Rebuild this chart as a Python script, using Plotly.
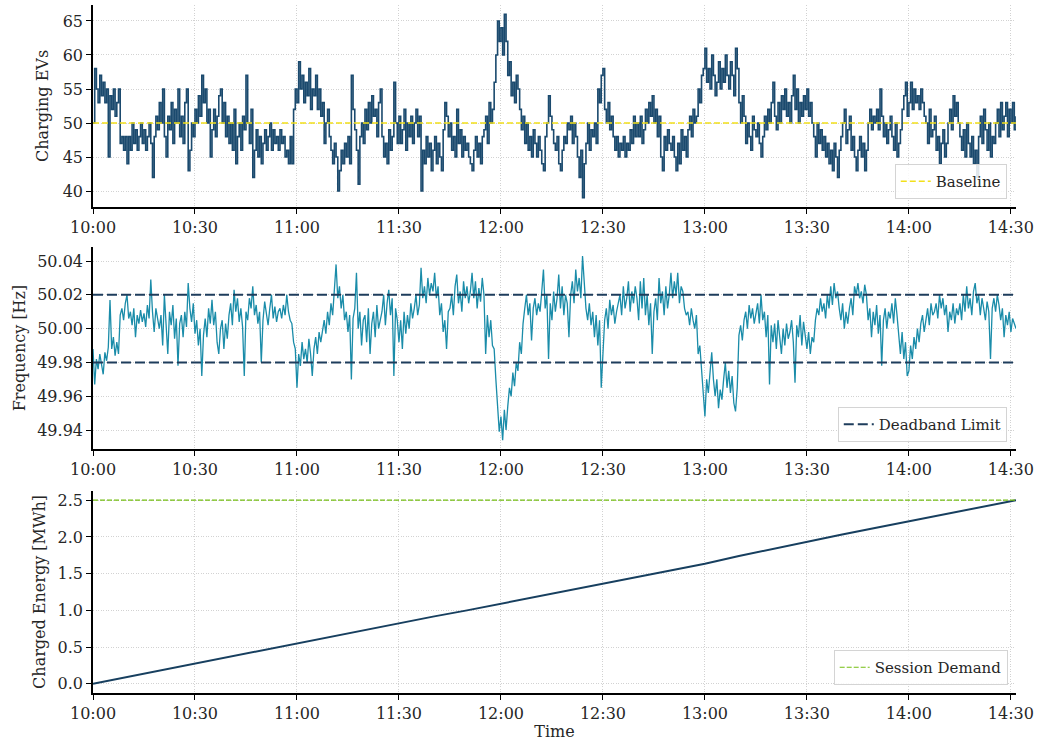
import numpy as np
import pandas as pd
import plotly.graph_objects as go
from plotly.subplots import make_subplots

# ---- data -------------------------------------------------------------
sample_start = "2024-05-14 10:00:00"
sample_step = "30s"

# number of charging EVs, one reading every 30 s
ev_count = [
    50, 58, 55, 53, 57, 54, 56, 53, 55, 45,
    54, 52, 55, 51, 53, 55, 47, 48, 46, 48,
    44, 48, 46, 50, 47, 49, 46, 48, 50, 47,
    49, 46, 48, 50, 47, 42, 48, 51, 49, 53,
    50, 55, 48, 45, 51, 49, 53, 47, 52, 50,
    55, 48, 51, 47, 53, 55, 43, 46, 50, 48,
    52, 50, 54, 51, 57, 53, 55, 50, 52, 45,
    49, 52, 48, 51, 54, 55, 50, 53, 48, 51,
    47, 50, 46, 52, 44, 48, 50, 46, 51, 49,
    57, 50, 47, 52, 42, 46, 49, 45, 48, 44,
    47, 49, 46, 48, 50, 46, 49, 47, 48, 46,
    49, 47, 48, 45, 46, 44, 48, 44, 52, 55,
    53, 59, 55, 57, 53, 56, 54, 58, 52, 55,
    54, 57, 52, 55, 51, 53, 47, 50, 52, 48,
    46, 44, 47, 45, 40, 43, 46, 44, 47, 45,
    48, 44, 57, 52, 49, 46, 41, 48, 50, 47,
    52, 49, 53, 50, 54, 51, 52, 48, 53, 55,
    48, 45, 47, 44, 49, 46, 48, 56, 50, 47,
    51, 47, 49, 52, 46, 50, 48, 51, 47, 50,
    52, 48, 51, 40, 46, 44, 48, 45, 47, 43,
    46, 48, 44, 47, 45, 43, 49, 53, 51, 48,
    50, 46, 48, 45, 52, 47, 49, 45, 48, 46,
    47, 45, 44, 43, 46, 48, 45, 47, 44, 48,
    49, 51, 47, 53, 50, 52, 56, 60, 65, 62,
    64, 60, 66, 62, 57, 59, 54, 56, 53, 57,
    55, 52, 49, 51, 47, 50, 46, 48, 45, 49,
    47, 45, 48, 46, 44, 43, 48, 50, 54, 51,
    49, 47, 46, 48, 44, 43, 46, 48, 47, 50,
    49, 51, 47, 50, 48, 45, 42, 46, 39, 44,
    47, 50, 46, 49, 48, 50, 47, 55, 53, 57,
    58, 52, 50, 53, 49, 51, 48, 46, 48, 45,
    47, 46, 48, 45, 47, 46, 49, 47, 51, 48,
    50, 48, 51, 47, 49, 52, 50, 53, 51, 54,
    50, 52, 48, 51, 45, 43, 48, 46, 49, 47,
    46, 48, 45, 43, 47, 44, 49, 46, 48, 45,
    49, 51, 48, 52, 50, 51, 55, 53, 57, 58,
    61, 56, 58, 55, 60, 57, 54, 56, 59, 55,
    58, 56, 60, 57, 55, 59, 57, 54, 61, 58,
    53, 50, 54, 51, 47, 50, 48, 46, 51, 49,
    48, 50, 47, 45, 48, 51, 49, 52, 50, 53,
    56, 51, 49, 53, 50, 54, 52, 55, 51, 53,
    50, 54, 57, 52, 55, 50, 53, 51, 54, 52,
    55, 51, 53, 50, 48, 45, 50, 47, 49, 46,
    48, 45, 47, 44, 46, 43, 47, 45, 42, 46,
    48, 50, 52, 47, 49, 51, 46, 48, 45, 43,
    46, 48, 45, 47, 43, 46, 50, 52, 49, 51,
    50, 52, 49, 55, 51, 48, 50, 47, 49, 51,
    48, 46, 50, 45, 47, 49, 52, 54, 56, 51,
    53, 56, 52, 55, 53, 54, 52, 55, 53, 51,
    50, 47, 52, 48, 49, 51, 46, 48, 44, 47,
    49, 45, 47, 50, 52, 49, 54, 51, 53, 50,
    48, 46, 49, 45, 50, 47, 45, 48, 44, 46,
    42, 48, 51, 47, 52, 49, 46, 50, 45, 48,
    47, 50, 52, 48, 53, 49, 51, 53, 48, 52,
    50, 53, 49, 51,
]

# grid frequency deviation from 50 Hz in mHz, one reading every 30 s
freq_dev_mhz = [
    -12, -33, -18, -24, -15, -20, -27, -14, -19, -11,
    17, -12, -5, -16, -8, -15, 8, 12, 5, 15,
    20, 6, 10, 2, 12, -5, 8, 3, 11, 4,
    9, 1, 14, 6, 29, 10, -2, 12, 5, 0,
    8, -10, 20, 5, -15, 10, 2, 14, -6, 6,
    -22, 3, 8, -5, 10, 1, 27, 12, 4, 15,
    -3, 5, -10, 0, -28, -4, 6, -5, 12, 3,
    17, 2, 10, -8, -15, 0, 5, -12, 3, -6,
    8, 15, 2, 23, 10, 18, 4, 12, 1, -28,
    10, 5, 18, 12, 25, 8, 14, 3, 10, -20,
    5, 16, 8, 2, 12, 20, 6, 13, 4, 10,
    12, 6, 14, 8, 20, 10, 5, 3, -8, -12,
    -35, -15, -22, -8, -18, -12, -20, -6, -15, -28,
    -12, -5, -15, -2, -8, 0, 5, -3, 10, 2,
    15, 8, 22, 38, 18, 25, 12, 20, 5, 10,
    -2, 8, -30, 6, 12, 33, 0, 10, -10, 5,
    8, -8, 12, -15, 3, 10, -5, 14, 0, 6,
    10, 20, 2, 15, 23, 8, 18, -28, 12, 5,
    -8, 5, -12, 10, -3, 8, 0, 15, 6, 12,
    20, 8, 14, 36, 18, 25, 15, 30, 20, 27,
    22, 33, 18, 25, 8, 15, -2, 5, -12, 10,
    12, 20, 8, 25, 32, 15, 22, 10, 28, 18,
    25, 15, 22, 33, 18, 28, 12, 24, 16, 30,
    20, -15, 8, -5, 5, -10, -12, -30, -45, -61,
    -52, -66, -48, -60, -46, -35, -40, -26, -34, -20,
    -25, -8, -15, 3, 12, 20, 8, 15, -7, 12,
    18, 8, 15, 10, 22, 35, 12, 20, -18, 15,
    5, 22, 10, 18, 32, 12, 25, 8, 20, 15,
    -5, 20, 28, 15, 35, 22, 30, 18, 43, 25,
    12, 5, 15, 2, 10, -5, 8, -10, 5, -35,
    -10, 5, 12, 0, 17, 8, 14, 3, 10, 15,
    20, 8, 25, 12, 18, 28, 10, 22, 15, 25,
    18, 5, 28, 12, 30, 8, 20, 2, 15, -15,
    10, 18, 5, 30, 15, 22, 8, 25, 12, 20,
    33, 18, 28, 20, 33, 15, 25, 22, 12, 8,
    10, 2, 12, 5, 0, 8, -15, -10, -25, -38,
    -52, -30, -38, -26, -14, -30, -40, -30, -47, -36,
    -42, -30, -20, -35, -25, -38, -28, -44, -49, -35,
    -4, 2, -7, 5, 10, 0, 14, 6, 12, 3,
    8, 15, 3, 20, 5, 10, -5, 8, -33, 2,
    -8, 3, -12, 5, -5, -15, 0, -10, 3, -6,
    -2, 5, -8, -32, 2, -5, 8, -10, 4, -3,
    -12, -2, -15, -5, -8, 5, 12, 8, 18, 10,
    15, 6, 20, 12, 25, 14, 27, 18, 22, 12,
    5, 15, 0, 10, 3, 12, 18, 8, 25, 20,
    27, 18, 22, 15, 26, 20, 5, 12, -5, 10,
    2, 14, -3, 8, -22, 5, 12, 0, 10, 6,
    15, 3, 18, 8, -5, -15, -2, -18, -8, -28,
    -25, -10, -18, -5, -12, 0, -8, 3, 8, -2,
    5, 12, 2, 15, 8, 10, 15, 6, 20, 12,
    18, 8, 14, -2, 10, 5, 15, 3, 12, 8,
    15, 5, 20, 10, 25, 12, 18, 8, 22, 27,
    15, 20, 8, 18, 12, 5, 16, 10, -18, 12,
    18, 10, 20, 14, 5, 12, -5, 8, 2, 10,
    -2, 6, 3, 0,
]

# cumulative charged energy (MWh)
energy_time = [
    "10:00", "10:10", "10:20", "10:30", "10:40", "10:50",
    "11:00", "11:10", "11:20", "11:30", "11:40", "11:50",
    "12:00", "12:10", "12:20", "12:30", "12:40", "12:50",
    "13:00", "13:10", "13:20", "13:30", "13:40", "13:50",
    "14:00", "14:10", "14:20", "14:30", "14:31:30",
]
energy_mwh = [
    0.00, 0.092, 0.185, 0.277, 0.370, 0.460,
    0.550, 0.640, 0.735, 0.830, 0.915, 1.000,
    1.090, 1.190, 1.280, 1.370, 1.460, 1.545,
    1.635, 1.740, 1.840, 1.940, 2.030, 2.120,
    2.210, 2.300, 2.390, 2.485, 2.500,
]

baseline_evs = 50
deadband_hz = [49.98, 50.02]
session_demand_mwh = 2.5
nominal_hz = 50.0

x_ticks = ["10:00", "10:30", "11:00", "11:30", "12:00",
           "12:30", "13:00", "13:30", "14:00", "14:30"]

# ---- derived tables ----------------------------------------------------
day = sample_start[:10]
t = pd.date_range(sample_start, periods=len(ev_count), freq=sample_step)
frequency_hz = nominal_hz + np.array(freq_dev_mhz) / 1000.0
energy_t = pd.to_datetime([f"{day} {s}" if len(s) > 5 else f"{day} {s}:00" for s in energy_time])
t0, t1 = t[0], t[-1]
tick_vals = pd.to_datetime([f"{day} {s}:00" for s in x_ticks])

# ---- styling -------------------------------------------------------------
FONT = "DejaVu Serif"
TXT = "#262626"
C_EV = "#1b4a6e"
C_FREQ = "#1a8ca9"
C_DEAD = "#1e3d5c"
C_BASE = "#f2e01b"
C_DEM = "#74be12"
C_ENERGY = "#173f5f"
GRID = "#d2d2d2"

fig = make_subplots(rows=3, cols=1)

fig.add_trace(go.Scatter(x=t, y=ev_count, mode="lines", line=dict(color=C_EV, width=1.6, shape="hv"),
                         showlegend=False), row=1, col=1)
fig.add_trace(go.Scatter(x=[t0, t1], y=[baseline_evs] * 2, mode="lines",
                         line=dict(color=C_BASE, width=1.5, dash="6px,3px"),
                         name="Baseline", legend="legend"), row=1, col=1)

fig.add_trace(go.Scatter(x=t, y=frequency_hz, mode="lines", line=dict(color=C_FREQ, width=1.3),
                         showlegend=False), row=2, col=1)
for i, lvl in enumerate(deadband_hz):
    fig.add_trace(go.Scatter(x=[t0, t1], y=[lvl] * 2, mode="lines",
                             line=dict(color=C_DEAD, width=2, dash="10px,4px"),
                             name="Deadband Limit", legend="legend2", showlegend=(i == 0)), row=2, col=1)

fig.add_trace(go.Scatter(x=energy_t, y=energy_mwh, mode="lines", line=dict(color=C_ENERGY, width=2),
                         showlegend=False), row=3, col=1)
fig.add_trace(go.Scatter(x=[t0, t1], y=[session_demand_mwh] * 2, mode="lines",
                         line=dict(color=C_DEM, width=1.2, dash="5px,2px"),
                         name="Session Demand", legend="legend3"), row=3, col=1)

xax = dict(
    range=[t0, t1], tickvals=list(tick_vals), tickformat="%H:%M",
    showline=True, linecolor="black", linewidth=1.6, mirror=False,
    ticks="outside", ticklen=5, tickwidth=1.2, tickcolor="black",
    showgrid=True, gridcolor=GRID, gridwidth=0.8, griddash="1px,1.5px",
    zeroline=False, tickfont=dict(family=FONT, size=16, color=TXT),
)
yax = dict(
    showline=True, linecolor="black", linewidth=1.6, mirror=False,
    ticks="outside", ticklen=5, tickwidth=1.2, tickcolor="black",
    showgrid=True, gridcolor=GRID, gridwidth=0.8, griddash="1px,1.5px",
    zeroline=False, tickfont=dict(family=FONT, size=16, color=TXT),
)

H = 746
top_m, bot_m = 5, 53
ph = H - top_m - bot_m


def dom(p_top, p_bot):
    return [1 - (p_bot - top_m) / ph, 1 - (p_top - top_m) / ph]


fig.update_layout(
    width=1038, height=746,
    margin=dict(l=93, r=22, t=top_m, b=bot_m),
    paper_bgcolor="white", plot_bgcolor="white",
    font=dict(family=FONT, size=16, color=TXT),
    xaxis=dict(xax, domain=[0, 1]),
    xaxis2=dict(xax, domain=[0, 1]),
    xaxis3=dict(xax, domain=[0, 1],
                title=dict(text="Time", standoff=4, font=dict(family=FONT, size=16, color=TXT))),
    yaxis=dict(yax, domain=dom(5, 207), range=[37.65, 67.35], tickvals=[40, 45, 50, 55, 60, 65],
               title=dict(text="Charging EVs", standoff=10, font=dict(family=FONT, size=16, color=TXT))),
    yaxis2=dict(yax, domain=dom(247, 449), range=[49.9288, 50.0483],
                tickvals=[49.94, 49.96, 49.98, 50.00, 50.02, 50.04], tickformat=".2f",
                title=dict(text="Frequency [Hz]", standoff=8, font=dict(family=FONT, size=16, color=TXT))),
    yaxis3=dict(yax, domain=dom(491, 693), range=[-0.125, 2.625],
                tickvals=[0, 0.5, 1.0, 1.5, 2.0, 2.5], tickformat=".1f",
                title=dict(text="Charged Energy [MWh]", standoff=8, font=dict(family=FONT, size=16, color=TXT))),
)

leg = dict(xanchor="right", yanchor="bottom", bgcolor="rgba(255,255,255,0.85)",
           bordercolor="#d4d4d4", borderwidth=1, font=dict(family=FONT, size=15, color=TXT))
fig.update_layout(
    legend=dict(leg, x=0.990, y=1 - (199 - top_m) / ph),
    legend2=dict(leg, x=0.990, y=1 - (442 - top_m) / ph),
    legend3=dict(leg, x=0.991, y=1 - (685 - top_m) / ph),
)

fig.write_html("out.html")
